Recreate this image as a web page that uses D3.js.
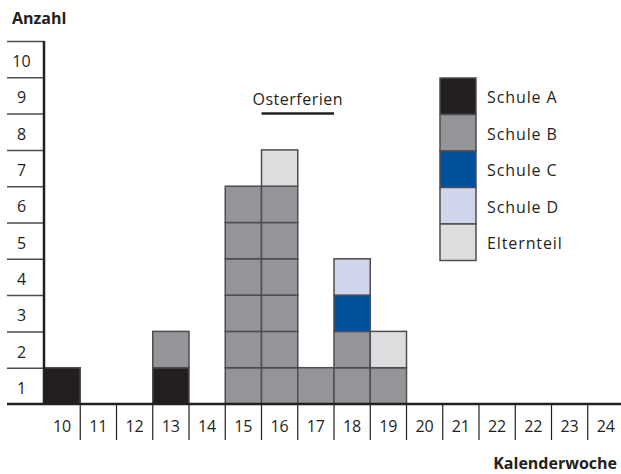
<!DOCTYPE html>
<html><head><meta charset="utf-8">
<script src="https://cdn.jsdelivr.net/npm/d3@7/dist/d3.min.js"></script>
<style>
html,body{margin:0;padding:0;background:#fff;}
text{font-family:"Open Sans","Noto Sans",sans-serif;fill:#231f20;}
</style></head>
<body><svg id="c" width="621" height="474"></svg>
<script>
const weeks = ["10","11","12","13","14","15","16","17","18","19","20","21","22","22","23","24"];
const yTicks = [1,2,3,4,5,6,7,8,9,10];
const seriesNames = ["Schule A","Schule B","Schule C","Schule D","Elternteil"];
const schuleA    = [1,0,0,1,0,0,0,0,0,0,0,0,0,0,0,0];
const schuleB    = [0,0,0,1,0,6,6,1,2,1,0,0,0,0,0,0];
const schuleC    = [0,0,0,0,0,0,0,0,1,0,0,0,0,0,0,0];
const schuleD    = [0,0,0,0,0,0,0,0,1,0,0,0,0,0,0,0];
const elternteil = [0,0,0,0,0,0,1,0,0,1,0,0,0,0,0,0];
const colors = ["#231f20","#939598","#00509e","#cfd5ea","#dcddde"];
const ferien = {label:"Osterferien", from:6, to:7};

const svg = d3.select("#c");
const ink = "#231f20";
const x = d3.scaleBand().domain(d3.range(weeks.length)).range([44, 624]).padding(0);
const y = d3.scaleLinear().domain([0,10]).range([404, 41]);

const table = weeks.map((w,i)=>({i, "Schule A":schuleA[i],"Schule B":schuleB[i],"Schule C":schuleC[i],"Schule D":schuleD[i],"Elternteil":elternteil[i]}));
const stacked = d3.stack().keys(seriesNames)(table);
const cells = [];
stacked.forEach((layer,k)=>{
  layer.forEach(seg=>{
    for(let v=seg[0]; v<seg[1]; v++) cells.push({i:seg.data.i, v, k});
  });
});

// y row separators
svg.append("g").selectAll("line").data(d3.range(0,10)).join("line")
  .attr("x1",7).attr("x2",44).attr("y1",d=>y(d+1)+0.5).attr("y2",d=>y(d+1)+0.5)
  .attr("stroke","#4d4d4f").attr("stroke-width",1.5);
svg.append("g").selectAll("text").data(yTicks).join("text")
  .attr("x",21.5).attr("y",d=>y(d-0.5)+8).attr("text-anchor","middle")
  .attr("font-size",16).text(d=>d);

// cells
svg.append("g").selectAll("rect").data(cells).join("rect")
  .attr("x",d=>x(d.i)).attr("y",d=>y(d.v+1)).attr("width",x.bandwidth()).attr("height",y(0)-y(1))
  .attr("fill",d=>colors[d.k]).attr("stroke","#4d4d4f").attr("stroke-width",1.5);

// x separators
svg.append("g").selectAll("line").data(d3.range(1,weeks.length)).join("line")
  .attr("x1",d=>x(d)).attr("x2",d=>x(d)).attr("y1",404).attr("y2",440)
  .attr("stroke",ink).attr("stroke-width",1.2);
svg.append("g").selectAll("text").data(weeks).join("text")
  .attr("x",(d,i)=>x(i)+x.bandwidth()/2).attr("y",432).attr("text-anchor","middle")
  .attr("font-size",16).text(d=>d);

// axes lines
svg.append("line").attr("x1",7).attr("x2",621).attr("y1",404).attr("y2",404).attr("stroke",ink).attr("stroke-width",2.5);
svg.append("line").attr("x1",44).attr("x2",44).attr("y1",41).attr("y2",405).attr("stroke",ink).attr("stroke-width",2.5);

// Osterferien
const fx0 = x(ferien.from), fx1 = x(ferien.to)+x.bandwidth();
svg.append("text").attr("x",(fx0+fx1)/2).attr("y",105).attr("text-anchor","middle").attr("font-size",16)
  .attr("letter-spacing",0.5).text(ferien.label);
svg.append("line").attr("x1",fx0).attr("x2",fx1).attr("y1",113.5).attr("y2",113.5).attr("stroke",ink).attr("stroke-width",2.5);

// legend
const lg = svg.append("g");
const lh = 36.5;
seriesNames.forEach((n,k)=>{
  lg.append("rect").attr("x",440).attr("y",78+k*lh).attr("width",36).attr("height",lh)
    .attr("fill",colors[k]).attr("stroke","#4d4d4f").attr("stroke-width",1.5);
  lg.append("text").attr("x",487).attr("y",78+k*lh+lh/2+7).attr("font-size",16)
    .attr("letter-spacing",0.9).text(n);
});

// titles
svg.append("text").attr("x",12).attr("y",24).attr("font-size",16).attr("font-weight","bold").text("Anzahl");
svg.append("text").attr("x",617).attr("y",469).attr("text-anchor","end").attr("font-size",16).attr("font-weight","bold").text("Kalenderwoche");
</script></body></html>
